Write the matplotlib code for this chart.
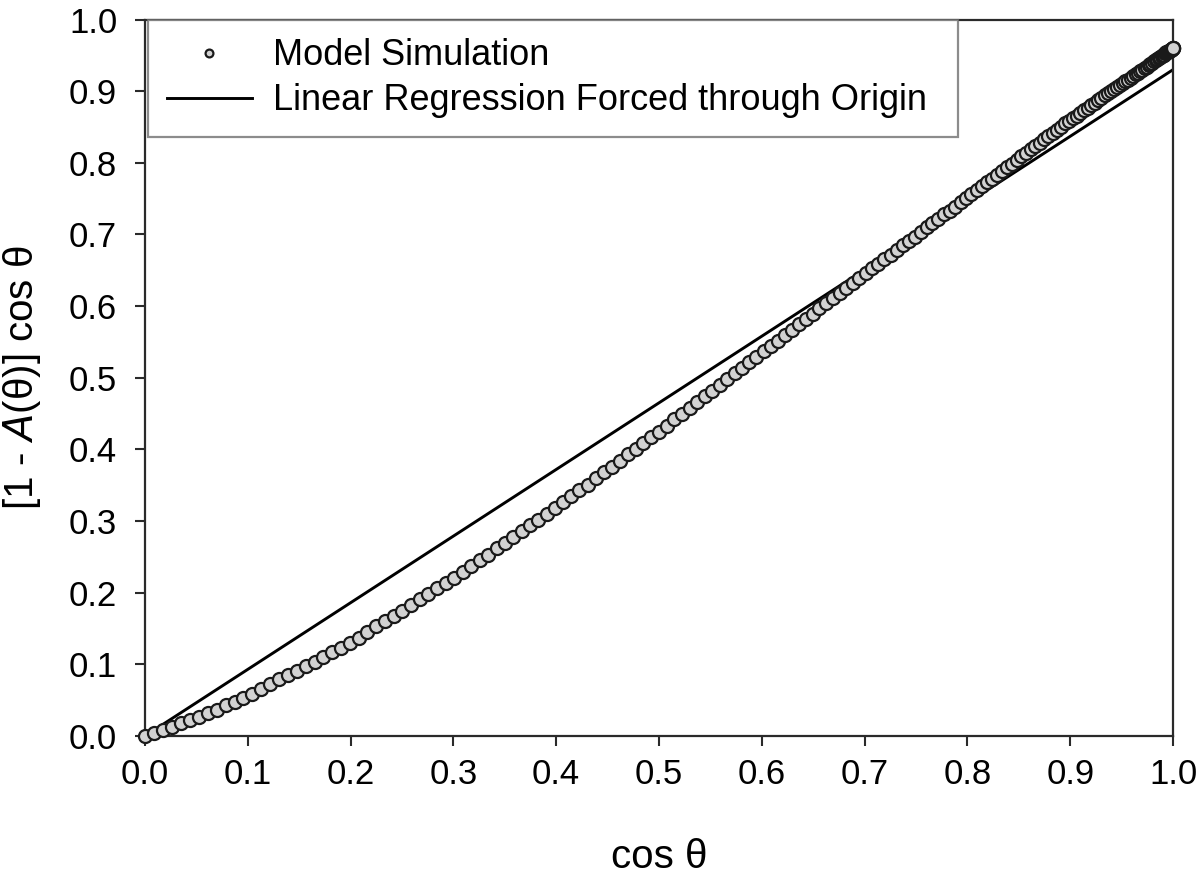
import matplotlib
matplotlib.use("Agg")
import matplotlib.pyplot as plt

plt.rcParams['font.family'] = ['Liberation Sans', 'DejaVu Sans']

# Model simulation points (x = cos theta, y = [1 - A(theta)] cos theta)
cos_theta = [
    0.0000, 0.0087, 0.0175, 0.0262, 0.0349, 0.0436, 0.0523, 0.0610, 0.0698, 0.0785,
    0.0872, 0.0958, 0.1045, 0.1132, 0.1219, 0.1305, 0.1392, 0.1478, 0.1564, 0.1650,
    0.1736, 0.1822, 0.1908, 0.1994, 0.2079, 0.2164, 0.2250, 0.2334, 0.2419, 0.2504,
    0.2588, 0.2672, 0.2756, 0.2840, 0.2924, 0.3007, 0.3090, 0.3173, 0.3256, 0.3338,
    0.3420, 0.3502, 0.3584, 0.3665, 0.3746, 0.3827, 0.3907, 0.3987, 0.4067, 0.4147,
    0.4226, 0.4305, 0.4384, 0.4462, 0.4540, 0.4617, 0.4695, 0.4772, 0.4848, 0.4924,
    0.5000, 0.5075, 0.5150, 0.5225, 0.5299, 0.5373, 0.5446, 0.5519, 0.5592, 0.5664,
    0.5736, 0.5807, 0.5878, 0.5948, 0.6018, 0.6088, 0.6157, 0.6225, 0.6293, 0.6361,
    0.6428, 0.6494, 0.6561, 0.6626, 0.6691, 0.6756, 0.6820, 0.6884, 0.6947, 0.7009,
    0.7071, 0.7133, 0.7193, 0.7254, 0.7314, 0.7373, 0.7431, 0.7490, 0.7547, 0.7604,
    0.7660, 0.7716, 0.7771, 0.7826, 0.7880, 0.7934, 0.7986, 0.8039, 0.8090, 0.8141,
    0.8192, 0.8241, 0.8290, 0.8339, 0.8387, 0.8434, 0.8480, 0.8526, 0.8572, 0.8616,
    0.8660, 0.8704, 0.8746, 0.8788, 0.8829, 0.8870, 0.8910, 0.8949, 0.8988, 0.9026,
    0.9063, 0.9100, 0.9135, 0.9171, 0.9205, 0.9239, 0.9272, 0.9304, 0.9336, 0.9367,
    0.9397, 0.9426, 0.9455, 0.9483, 0.9511, 0.9537, 0.9563, 0.9588, 0.9613, 0.9636,
    0.9659, 0.9681, 0.9703, 0.9724, 0.9744, 0.9763, 0.9781, 0.9799, 0.9816, 0.9833,
    0.9848, 0.9863, 0.9877, 0.9890, 0.9903, 0.9914, 0.9925, 0.9936, 0.9945, 0.9954,
    0.9962, 0.9969, 0.9976, 0.9981, 0.9986, 0.9990, 0.9994, 0.9997, 0.9998, 1.0000,
    1.0000,
]

transmitted = [
    0.000, 0.004, 0.009, 0.013, 0.018, 0.022, 0.027, 0.032, 0.037, 0.043,
    0.048, 0.053, 0.059, 0.066, 0.072, 0.079, 0.085, 0.091, 0.098, 0.104,
    0.110, 0.117, 0.123, 0.130, 0.137, 0.145, 0.153, 0.160, 0.168, 0.175,
    0.183, 0.191, 0.198, 0.206, 0.213, 0.221, 0.229, 0.237, 0.245, 0.253,
    0.262, 0.270, 0.278, 0.286, 0.294, 0.302, 0.310, 0.318, 0.326, 0.335,
    0.343, 0.351, 0.360, 0.368, 0.376, 0.384, 0.393, 0.401, 0.409, 0.417,
    0.425, 0.433, 0.442, 0.450, 0.458, 0.466, 0.474, 0.482, 0.490, 0.498,
    0.506, 0.514, 0.522, 0.529, 0.537, 0.545, 0.552, 0.560, 0.567, 0.575,
    0.582, 0.589, 0.597, 0.604, 0.611, 0.618, 0.625, 0.632, 0.639, 0.646,
    0.653, 0.659, 0.666, 0.672, 0.679, 0.685, 0.691, 0.697, 0.704, 0.710,
    0.716, 0.722, 0.728, 0.733, 0.739, 0.745, 0.751, 0.756, 0.762, 0.767,
    0.773, 0.778, 0.783, 0.789, 0.794, 0.799, 0.804, 0.809, 0.814, 0.819,
    0.823, 0.828, 0.833, 0.837, 0.842, 0.846, 0.850, 0.855, 0.859, 0.863,
    0.866, 0.870, 0.874, 0.877, 0.881, 0.884, 0.887, 0.890, 0.894, 0.897,
    0.900, 0.903, 0.906, 0.908, 0.911, 0.914, 0.916, 0.919, 0.921, 0.924,
    0.926, 0.928, 0.930, 0.932, 0.934, 0.936, 0.938, 0.940, 0.942, 0.943,
    0.945, 0.946, 0.948, 0.949, 0.950, 0.951, 0.953, 0.954, 0.955, 0.955,
    0.956, 0.957, 0.958, 0.958, 0.959, 0.959, 0.959, 0.960, 0.960, 0.960,
    0.960,
]

regression_slope = 0.93
regression_x = [0.0, 1.0]

tick_values = [0.0, 0.1, 0.2, 0.3, 0.4, 0.5, 0.6, 0.7, 0.8, 0.9, 1.0]
tick_labels = ['0.0', '0.1', '0.2', '0.3', '0.4', '0.5', '0.6', '0.7', '0.8', '0.9', '1.0']

fig = plt.figure(figsize=(12, 8.76), dpi=100)
ax = fig.add_axes([0.1208, 0.1598, 0.8567, 0.8179])

ax.plot(cos_theta, transmitted, linestyle='none', marker='o', markersize=9.4,
        markerfacecolor='#d2d2d2', markeredgecolor='#1a1a1a', markeredgewidth=1.6,
        label='Model Simulation', zorder=3, clip_on=False)
ax.plot(regression_x, [regression_slope * v for v in regression_x], color='black',
        linewidth=2.1, label='Linear Regression Forced through Origin', zorder=2)

ax.set_xlim(0, 1)
ax.set_ylim(0, 1)
ax.set_xticks(tick_values)
ax.set_xticklabels(tick_labels)
ax.set_yticks(tick_values)
ax.set_yticklabels(tick_labels)

for s in ax.spines.values():
    s.set_linewidth(1.6)
    s.set_color('#2a2a2a')

ax.tick_params(axis='both', direction='out', length=7, width=1.5, colors='#2a2a2a',
               labelsize=25, labelcolor='black')
ax.tick_params(axis='x', pad=9)
ax.tick_params(axis='y', pad=13)

ax.set_xlabel('cos θ', fontsize=29)
ax.xaxis.set_label_coords(0.5, -0.142)
ax.set_ylabel('[1 - $\\mathit{A}$(θ)] cos θ', fontsize=29)
ax.yaxis.set_label_coords(-0.099, 0.5)

leg = ax.legend(loc='upper left', bbox_to_anchor=(0.003, 1.0, 0.788, 0.0), mode='expand',
                frameon=True, fancybox=False, fontsize=26, markerscale=0.6,
                handlelength=2.35, handletextpad=0.6, borderpad=0.52, labelspacing=0.28,
                borderaxespad=0.0)
leg.get_frame().set_edgecolor('#707070')
leg.get_frame().set_linewidth(1.6)

fig.savefig('out.png', dpi=100)
